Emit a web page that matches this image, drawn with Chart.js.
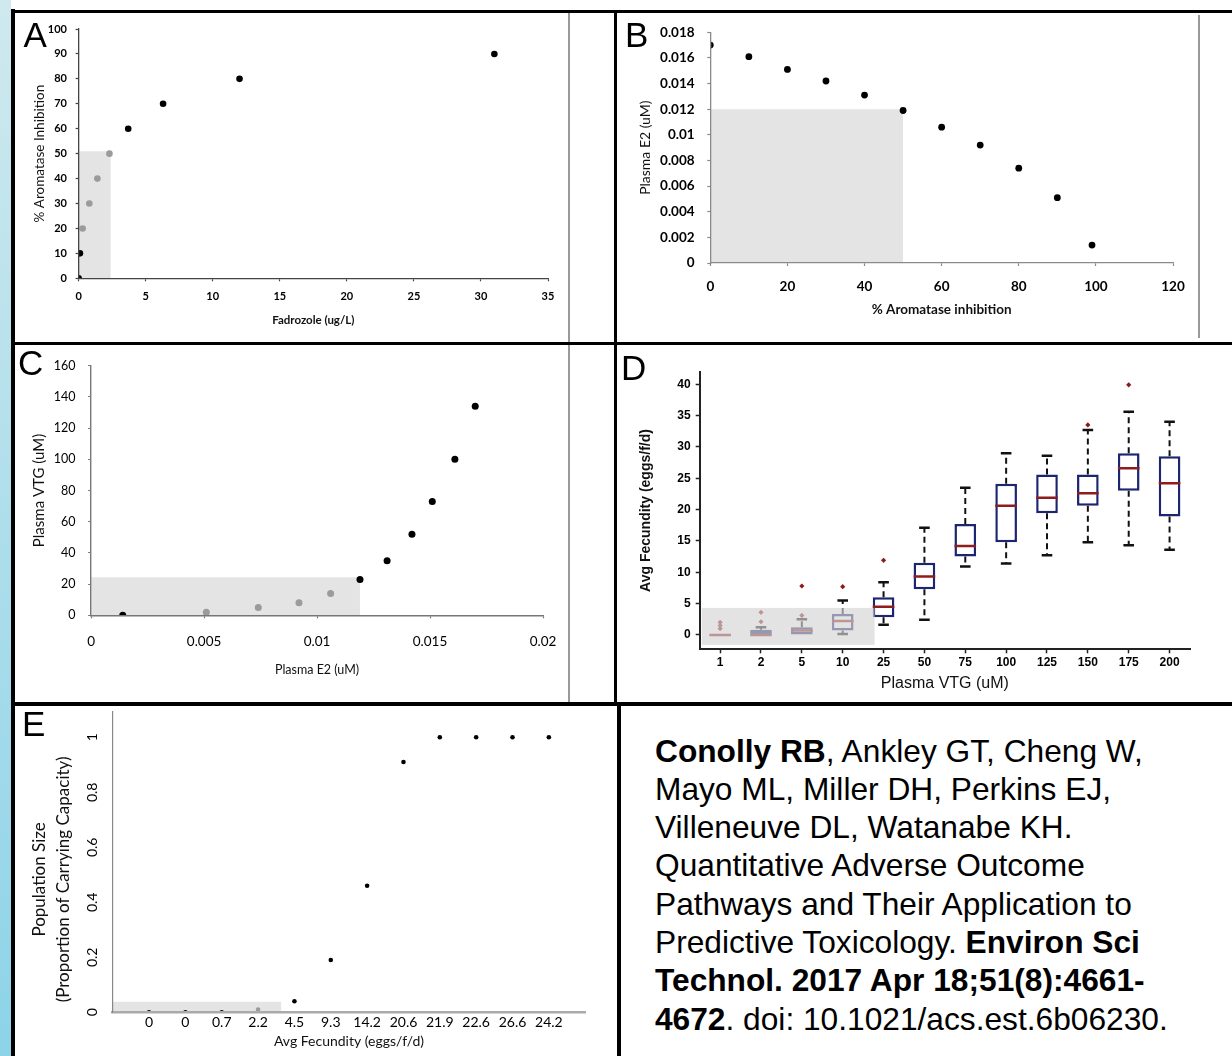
<!DOCTYPE html>
<html>
<head>
<meta charset="utf-8">
<script src="https://cdn.jsdelivr.net/npm/chart.js@4.4.1/dist/chart.umd.min.js"></script>
<style>
  html, body { margin: 0; padding: 0; background: #fff; }
  #page { position: relative; width: 1232px; height: 1056px; overflow: hidden; background: #fff; }
  .strip { position: absolute; left: 0; top: 0; width: 11px; height: 1056px; background: linear-gradient(#cfe9ee, #8dd3e8); }
  canvas { position: absolute; z-index: 1; }
  .ln { position: absolute; background: #000; z-index: 5; }
  .gl { position: absolute; background: #9a9a9a; width: 1.5px; z-index: 4; }
  .lt { position: absolute; font: 35px "Liberation Sans", Arial, sans-serif; line-height: 35px; color: #000; z-index: 6; }
  .ref { position: absolute; left: 655px; top: 731.6px; font-family: "Liberation Sans", Arial, sans-serif; font-size: 31.7px; line-height: 38.3px; color: #000; white-space: nowrap; z-index: 6; }
</style>
</head>
<body>
<div id="page">
  <div class="strip"></div>

  <canvas id="cA" width="600" height="329" style="left:15px;top:13px"></canvas>
  <canvas id="cB" width="615" height="329" style="left:617px;top:13px"></canvas>
  <canvas id="cC" width="600" height="357" style="left:15px;top:345px"></canvas>
  <canvas id="cD" width="615" height="357" style="left:617px;top:345px"></canvas>
  <canvas id="cE" width="603" height="350" style="left:15px;top:706px"></canvas>

  <!-- panel frames -->
  <div class="ln" style="left:11px;top:10px;width:1221px;height:3px"></div>
  <div class="ln" style="left:11px;top:9px;width:4px;height:1047px"></div>
  <div class="ln" style="left:614px;top:10px;width:3px;height:694px"></div>
  <div class="ln" style="left:11px;top:342px;width:1221px;height:3px"></div>
  <div class="ln" style="left:11px;top:702px;width:1221px;height:4px"></div>
  <div class="ln" style="left:617px;top:702px;width:4px;height:354px"></div>
  <div class="gl" style="left:568px;top:13px;height:329px"></div>
  <div class="gl" style="left:1198px;top:15px;height:323px"></div>
  <div class="gl" style="left:568px;top:345px;height:357px"></div>

  <div class="lt" style="left:23.5px;top:17px">A</div>
  <div class="lt" style="left:625px;top:17px">B</div>
  <div class="lt" style="left:18px;top:344.5px">C</div>
  <div class="lt" style="left:621px;top:349.5px">D</div>
  <div class="lt" style="left:22px;top:705.5px">E</div>

  <div class="ref"><b>Conolly RB</b>, Ankley GT, Cheng W,<br>Mayo ML, Miller DH, Perkins EJ,<br>Villeneuve DL, Watanabe KH.<br>Quantitative Adverse Outcome<br>Pathways and Their Application to<br>Predictive Toxicology. <b>Environ Sci</b><br><b>Technol. 2017 Apr 18;51(8):4661-</b><br><b>4672</b>. doi: 10.1021/acs.est.6b06230.</div>
</div>

<script>
'use strict';

// --- A: Fadrozole -> % aromatase inhibition ---
const A_X = [0, 0.1, 3.7, 6.3, 12, 31];
const A_Y = [0, 10, 60, 70, 80, 90];
const A_GRAY_X = [0.3, 0.8, 1.4, 2.3];
const A_GRAY_Y = [20, 30, 40, 50];
const A_SHADE = [2.4, 51];

// --- B: % inhibition -> plasma E2 ---
const B_X = [0, 10, 20, 30, 40, 50, 60, 70, 80, 90, 99];
const B_Y = [0.017, 0.0161, 0.0151, 0.0142, 0.0131, 0.0119, 0.0106, 0.0092, 0.0074, 0.0051, 0.0014];
const B_SHADE = [50, 0.012];

// --- C: plasma E2 -> plasma VTG ---
const C_X = [0.0014, 0.0119, 0.0131, 0.0142, 0.0151, 0.0161, 0.017];
const C_Y = [0, 23, 35, 52, 73, 100, 134];
const C_GRAY_X = [0.0051, 0.0074, 0.0092, 0.0106];
const C_GRAY_Y = [2, 5, 8, 14];
const C_SHADE = [0.0119, 24.4];

// --- D: plasma VTG -> fecundity (box plots) ---
const D_CATS = ['1', '2', '5', '10', '25', '50', '75', '100', '125', '150', '175', '200'];
const D_Q1 = [0, 0, 0, 0.7, 2.8, 7.3, 12.5, 14.8, 19.4, 20.6, 23.0, 18.9];
const D_Q3 = [0, 0.8, 1.2, 3.35, 6.0, 11.5, 17.7, 24.1, 25.6, 25.6, 29.0, 28.5];
const D_MED = [0, 0, 0.7, 2.2, 4.5, 9.3, 14.2, 20.6, 21.9, 22.6, 26.6, 24.2];
const D_LO = [null, null, null, 0.15, 1.6, 2.4, 10.9, 11.4, 12.7, 14.8, 14.3, 13.6];
const D_HI = [null, 1.2, 2.5, 5.5, 8.4, 17.1, 23.5, 29.0, 28.6, 32.7, 35.6, 34.0];
const D_OUT_CAT = ['1', '1', '1', '2', '2', '5', '5', '10', '25', '150', '175'];
const D_OUT_VAL = [1.0, 1.5, 2.0, 2.1, 3.6, 3.1, 7.8, 7.7, 11.9, 33.5, 39.9];
const D_SHADE_X = [-0.45, 3.78];
const D_SHADE_Y = [-1.6, 4.3];

// --- E: fecundity -> population size ---
const E_LABELS = ['0', '0', '0.7', '2.2', '4.5', '9.3', '14.2', '20.6', '21.9', '22.6', '26.6', '24.2'];
const E_Y = [0, 0, 0, 0.01, 0.04, 0.19, 0.46, 0.91, 1, 1, 1, 1];
const E_FADED = [3];
const E_SHADE = [3.64, 0.038];

const BLACK = '#000';
const GRAY_PT = '#9b9b9b';
const SHADE = '#e4e4e4';

const fmt = v => String(Math.round(v * 1e6) / 1e6);
const pts = (xs, ys) => xs.map((x, i) => ({ x, y: ys[i] }));

function yFit(w) { return s => { s.width = w; s.paddingTop = 0; s.paddingBottom = 0; }; }
function xFit(h) { return s => { s.height = h; s.paddingLeft = 0; s.paddingRight = 0; }; }

function axis(o) {
  const left = o.pos === 'left';
  return {
    type: o.type || 'linear',
    position: o.pos,
    min: o.min,
    max: o.max,
    offset: !!o.offset,
    afterFit: left ? yFit(o.size) : xFit(o.size),
    grid: { display: o.tick > 0, drawOnChartArea: false, offset: false, tickLength: o.tick, tickWidth: o.tw || 1.2, tickColor: o.color },
    border: { display: true, color: o.color, width: o.bw, z: 1 },
    ticks: Object.assign({
      stepSize: o.step, includeBounds: false, autoSkip: false, maxRotation: 0,
      padding: o.pad, color: '#000', font: o.font, callback: o.cb || fmt,
    }, o.ticks || {}),
    title: {
      display: true, text: o.title, color: '#111', font: o.tfont,
      padding: left ? { top: o.tpad, bottom: 0 } : { top: 0, bottom: o.tpad },
    },
  };
}

function base(pad, scales) {
  return {
    responsive: false,
    animation: false,
    events: [],
    layout: { padding: pad },
    plugins: { legend: { display: false }, tooltip: { enabled: false } },
    scales,
  };
}

function shade(ext, x0) {
  return {
    type: 'line',
    data: [{ x: x0, y: ext[1] }, { x: ext[0], y: ext[1] }],
    fill: 'origin',
    backgroundColor: SHADE,
    borderColor: 'rgba(0,0,0,0)',
    borderWidth: 0,
    pointRadius: 0,
    order: 9,
  };
}

function dots(data, color, r) {
  return { data, backgroundColor: color, borderWidth: 0, pointRadius: r, order: 1 };
}

// --- A ---
new Chart(document.getElementById('cA'), {
  type: 'scatter',
  data: {
    datasets: [
      dots(pts(A_X, A_Y), BLACK, 3.3),
      dots(pts(A_GRAY_X, A_GRAY_Y), GRAY_PT, 3.3),
      shade(A_SHADE, 0),
    ],
  },
  options: base({ left: 0, top: 16, right: 67, bottom: 0 }, {
    x: axis({ pos: 'bottom', min: 0, max: 35, step: 5, size: 63.7, tick: 3, bw: 1.3, color: '#444', pad: 9,
      font: { family: 'Lato', size: 11, weight: 'bold' },
      title: 'Fadrozole (ug/L)', tfont: { family: 'Lato', size: 11.5, weight: 'bold' }, tpad: 14.5 }),
    y: axis({ pos: 'left', min: 0, max: 100, step: 10, size: 63.6, tick: 3, bw: 1.3, color: '#444', pad: 8.6,
      font: { family: 'Lato', size: 11, weight: 'bold' },
      title: '% Aromatase Inhibition', tfont: { family: 'Lato', size: 13.5 }, tpad: 16.2 }),
  }),
});

// --- B ---
new Chart(document.getElementById('cB'), {
  type: 'scatter',
  data: {
    datasets: [
      dots(pts(B_X, B_Y), BLACK, 3.4),
      shade(B_SHADE, 0),
    ],
  },
  options: base({ left: 0, top: 19.3, right: 59, bottom: 0 }, {
    x: axis({ pos: 'bottom', min: 0, max: 120, step: 20, size: 79, tick: 3, bw: 1.3, color: '#8a8a8a', pad: 12.6,
      font: { family: 'Lato', size: 13.5, weight: 'bold' },
      title: '% Aromatase inhibition', tfont: { family: 'Lato', size: 13.5, weight: 'bold' }, tpad: 23.9 }),
    y: axis({ pos: 'left', min: 0, max: 0.018, step: 0.002, size: 93.3, tick: 3, bw: 1.3, color: '#8a8a8a', pad: 12.7,
      font: { family: 'Lato', size: 13.5, weight: 'bold' },
      title: 'Plasma E2 (uM)', tfont: { family: 'Lato', size: 14 }, tpad: 20.1 }),
  }),
});

// --- C ---
new Chart(document.getElementById('cC'), {
  type: 'scatter',
  data: {
    datasets: [
      dots(pts(C_X, C_Y), BLACK, 3.5),
      dots(pts(C_GRAY_X, C_GRAY_Y), GRAY_PT, 3.5),
      shade(C_SHADE, 0),
    ],
  },
  options: base({ left: 0, top: 20.7, right: 72, bottom: 0 }, {
    x: axis({ pos: 'bottom', min: 0, max: 0.02, step: 0.005, size: 86.7, tick: 3, bw: 1.4, color: '#777', pad: 15.3,
      font: { family: 'Lato', size: 13.5 },
      title: 'Plasma E2 (uM)', tfont: { family: 'Lato', size: 12.5 }, tpad: 24.5 }),
    y: axis({ pos: 'left', min: 0, max: 160, step: 20, size: 76.1, tick: 3, bw: 1.4, color: '#777', pad: 12.7,
      font: { family: 'Lato', size: 12.5 },
      title: 'Plasma VTG (uM)', tfont: { family: 'Lato', size: 15 }, tpad: 15.3 }),
  }),
});

// --- D ---
const whiskers = [];
D_CATS.forEach((c, i) => {
  if (D_LO[i] !== null) whiskers.push({ x: c, y: D_Q1[i] }, { x: c, y: D_LO[i] }, { x: c, y: null });
  if (D_HI[i] !== null) whiskers.push({ x: c, y: D_Q3[i] }, { x: c, y: D_HI[i] }, { x: c, y: null });
});

const dShade = {
  id: 'dShade',
  afterDatasetsDraw(chart) {
    const { ctx, scales: { x, y } } = chart;
    const x0 = x.getPixelForValue(D_SHADE_X[0]);
    const x1 = x.getPixelForValue(D_SHADE_X[1]);
    const y0 = y.getPixelForValue(D_SHADE_Y[0]);
    const y1 = y.getPixelForValue(D_SHADE_Y[1]);
    ctx.save();
    ctx.fillStyle = 'rgba(212,212,212,0.66)';
    ctx.fillRect(x0, y1, x1 - x0, y0 - y1);
    ctx.restore();
  },
};

const capSet = (data) => ({
  type: 'line', data, showLine: false, pointStyle: 'line', pointRadius: 5.3,
  pointBorderWidth: 2.5, pointBorderColor: '#111', borderColor: '#111', order: 4,
});

new Chart(document.getElementById('cD'), {
  type: 'bar',
  data: {
    labels: D_CATS,
    datasets: [
      { type: 'line', data: whiskers, borderColor: '#111', borderWidth: 2, borderDash: [6, 4],
        pointRadius: 0, spanGaps: false, fill: false, order: 6 },
      { type: 'bar', data: D_Q1.map((q, i) => [q, D_Q3[i]]), backgroundColor: '#fff', borderColor: '#1d2571',
        borderWidth: 2.5, borderSkipped: false, barPercentage: 0.53, categoryPercentage: 1, order: 5 },
      capSet(D_LO),
      capSet(D_HI),
      { type: 'line', data: D_MED, showLine: false, pointStyle: 'line', pointRadius: 10.8,
        pointBorderWidth: 2.5, pointBorderColor: '#8f1d1d', borderColor: '#8f1d1d', order: 3 },
      { type: 'line', data: D_OUT_CAT.map((c, i) => ({ x: c, y: D_OUT_VAL[i] })), showLine: false,
        pointStyle: 'rectRot', pointRadius: 2.6, pointBackgroundColor: '#8e1b1b', pointBorderWidth: 0, order: 2 },
    ],
  },
  options: base({ left: 0, top: 26.7, right: 42, bottom: 0 }, {
    x: axis({ type: 'category', offset: true, pos: 'bottom', size: 52.7, tick: 4, tw: 1.5, bw: 2, color: '#222', pad: 2.2,
      font: { family: 'Liberation Sans', size: 12, weight: 'bold' }, cb: v => D_CATS[v],
      title: 'Plasma VTG (uM)', tfont: { family: 'Liberation Sans', size: 16 }, tpad: 9.1 }),
    y: axis({ pos: 'left', min: -2.3, max: 42, step: 5, size: 82.7, tick: 4, tw: 1.5, bw: 2, color: '#222', pad: 5.1,
      font: { family: 'Liberation Sans', size: 12, weight: 'bold' },
      title: 'Avg Fecundity (eggs/f/d)', tfont: { family: 'Liberation Sans', size: 14, weight: 'bold' }, tpad: 21.2 }),
  }),
  plugins: [dShade],
});

// --- E ---
// trailing spaces nudge the rotated two-line title toward the bottom, as in the original
const E_YTITLE = ['Population Size' + ' '.repeat(8), '(Proportion of Carrying Capacity)' + ' '.repeat(8)];

new Chart(document.getElementById('cE'), {
  type: 'scatter',
  data: {
    datasets: [
      { data: E_Y.map((v, i) => ({ x: i, y: v })), borderWidth: 0, pointRadius: 2.3, order: 1,
        backgroundColor: E_Y.map((_, i) => (E_FADED.includes(i) ? GRAY_PT : BLACK)) },
      shade(E_SHADE, -1),
    ],
  },
  options: base({ left: 0, top: 5.7, right: 32.8, bottom: 0 }, {
    x: axis({ pos: 'bottom', min: -1, max: 12, step: 1, size: 43.7, tick: 0, bw: 2.5, color: '#aaa', pad: 2,
      font: { family: 'Lato', size: 14 }, cb: v => E_LABELS[v] ?? '',
      title: 'Avg Fecundity (eggs/f/d)', tfont: { family: 'Lato', size: 14 }, tpad: 5.9 }),
    y: axis({ pos: 'left', min: 0, max: 1.093, step: 0.2, size: 97.7, tick: 0, bw: 1.2, color: '#888', pad: 10.8,
      font: { family: 'Lato', size: 14 }, ticks: { minRotation: 90, maxRotation: 90, crossAlign: 'center' },
      title: E_YTITLE,
      tfont: { family: 'Lato', size: 17, lineHeight: '24px' }, tpad: 12.5 }),
  }),
});
</script>
</body>
</html>
